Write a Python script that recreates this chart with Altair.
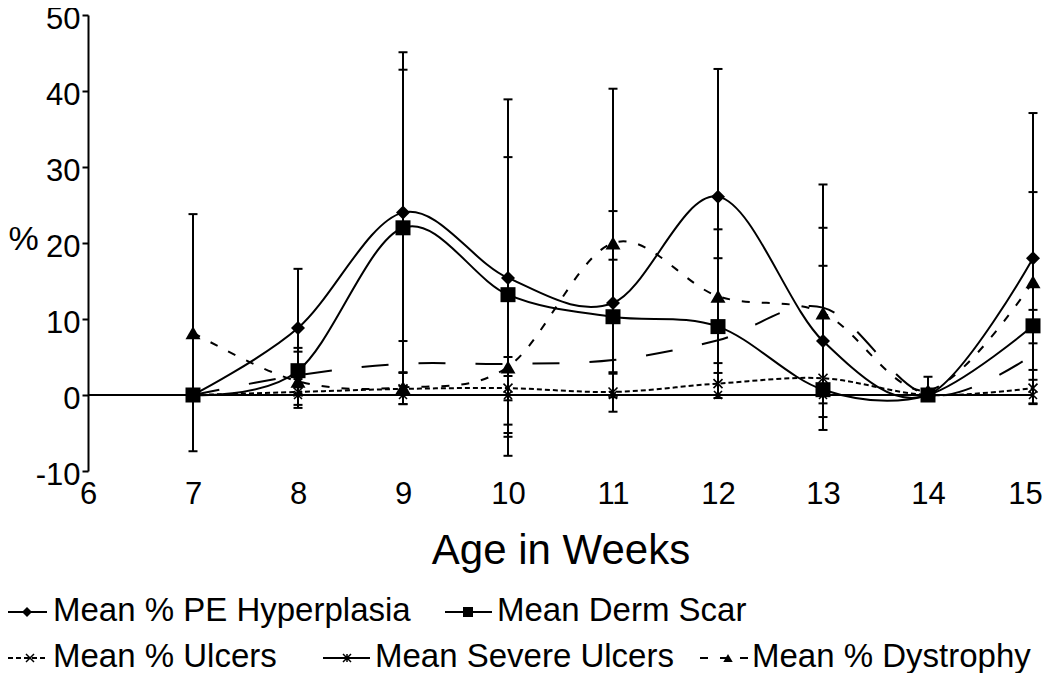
import altair as alt
import pandas as pd

# ---------------- data ----------------
weeks = [7, 8, 9, 10, 11, 12, 13, 14, 15]
x_ticks = [6, 7, 8, 9, 10, 11, 12, 13, 14, 15]
y_ticks = [-10, 0, 10, 20, 30, 40, 50]

series_names = [
    "Mean % PE Hyperplasia",
    "Mean Derm Scar",
    "Mean % Ulcers",
    "Mean Severe Ulcers",
    "Mean % Dystrophy",
]

hyperplasia = [0.0, 8.8, 24.0, 15.4, 12.1, 26.1, 7.1, 0.0, 18.0]
derm_scar = [0.0, 3.2, 22.0, 13.2, 10.3, 9.0, 0.7, 0.0, 9.1]
ulcers = [0.0, 0.4, 0.8, 0.9, 0.4, 1.5, 2.2, 0.0, 0.9]
severe_ulcers = [0.0, 0.0, 0.0, 0.0, 0.0, 0.0, 0.0, 0.0, 0.0]
dystrophy = [8.2, 1.8, 1.0, 3.7, 20.0, 13.0, 10.8, 0.6, 14.9]
# unlabelled long-dash curve (no legend entry in the original)
long_dash_curve = [0.0, 2.6, 4.1, 4.1, 4.6, 7.2, 11.5, 0.0, 5.3]

# error bar ends (upper / lower), None = no bar
hyperplasia_hi = [None, 16.6, 45.1, 38.9, 24.2, 42.9, 27.7, None, 37.1]
hyperplasia_lo = [None, 1.0, 2.9, -8.0, 0.0, 9.3, -4.6, None, -1.1]
derm_scar_hi = [None, 6.2, 42.8, 31.3, 17.8, 18.0, 17.0, None, 11.2]
derm_scar_lo = [None, 0.2, 1.2, -5.0, 2.8, 0.0, -2.9, None, 6.8]
ulcers_hi = [None, 2.1, 3.0, 2.5, 3.0, 2.9, None, None, 2.0]
ulcers_lo = [None, -1.3, -1.2, -0.7, -2.2, -0.4, None, None, -1.2]
severe_hi = [None, None, None, 0.0, None, None, None, None, None]
severe_lo = [None, None, None, -5.5, None, None, None, None, None]
dystrophy_hi = [23.8, 5.7, 7.1, 5.0, 40.3, 21.8, 22.0, 2.4, 26.7]
dystrophy_lo = [-7.4, -1.7, -1.2, -3.9, -0.3, 4.2, -1.1, 0.0, 3.3]

series_values = [hyperplasia, derm_scar, ulcers, severe_ulcers, dystrophy]
series_hi = [hyperplasia_hi, derm_scar_hi, ulcers_hi, severe_hi, dystrophy_hi]
series_lo = [hyperplasia_lo, derm_scar_lo, ulcers_lo, severe_lo, dystrophy_lo]

# ---------------- styles / layout ----------------
FONT = "Liberation Sans"
X_PATH = "M-1,-1L1,1M-1,1L1,-1"
AST_PATH = "M-1,-1L1,1M-1,1L1,-1M0,-1L0,1"

styles = [
    dict(dash=None, shape="diamond", filled=True, size=196, lsize=100),
    dict(dash=None, shape="square", filled=True, size=225, lsize=100),
    dict(dash=[5, 3], shape=X_PATH, filled=False, size=81, lsize=64),
    dict(dash=None, shape=AST_PATH, filled=False, size=64, lsize=64),
    dict(dash=[8, 12], shape="triangle-up", filled=True, size=225, lsize=90),
]

# legend layout in pixels relative to the plot origin: (line x0, line x1, marker x, text x, y)
legend_layout = [
    (-80, -41, -61, -35, 597),
    (357, 404, 380, 409, 597),
    (-80, -40, -58, -35, 643),
    (235, 282, 259, 287, 643),
    (612, 662, 640, 664, 643),
]

W, H = 945, 456

xscale = alt.Scale(domain=[6, 15], nice=False, zero=False)
yscale = alt.Scale(domain=[-10, 50], nice=False, zero=False)

x_axis = alt.Axis(
    values=x_ticks, format="d", domain=False, ticks=False, grid=False,
    labelFontSize=31, labelColor="black", labelPadding=8, labelFlush=False,
    labelOverlap=False, labelFont=FONT,
    labelOffset=alt.ConditionalAxisNumber(
        condition={"test": "datum.value == 15", "value": -8}, value=0
    ),
    title="Age in Weeks", titleFontSize=42, titleFontWeight="normal",
    titleColor="black", titlePadding=21, titleFont=FONT,
)
y_axis = alt.Axis(
    values=y_ticks, grid=False, domainColor="black", domainWidth=2,
    tickColor="black", tickWidth=2, tickSize=6, labelFontSize=31,
    labelPadding=2, labelColor="black", labelFlush=False, labelOverlap=False,
    labelFont=FONT, labelOffset=4, labelExpr="'' + datum.value",
    title="%", titleAngle=0, titleFontSize=34, titleFontWeight="normal",
    titleColor="black", titleAlign="left", titleBaseline="middle",
    titleX=-80, titleY=224, titleFont=FONT,
)

X = alt.X("week:Q", scale=xscale, axis=x_axis)
Y = alt.Y("value:Q", scale=yscale, axis=y_axis)

layers = []

# zero line across the plot
zero_df = pd.DataFrame({"value": [0.0]})
layers.append(
    alt.Chart(zero_df).mark_rule(color="black", strokeWidth=2).encode(
        y=alt.Y("value:Q", scale=yscale, axis=y_axis)
    )
)

# error bars
for vals, his, los in zip(series_values, series_hi, series_lo):
    rows = [(w, h, l) for w, h, l in zip(weeks, his, los) if h is not None]
    if not rows:
        continue
    eb = pd.DataFrame(rows, columns=["week", "hi", "lo"])
    layers.append(
        alt.Chart(eb).mark_rule(color="black", strokeWidth=2).encode(
            x=X, y=alt.Y("hi:Q", scale=yscale, axis=y_axis), y2="lo:Q"
        )
    )
    for col in ["hi", "lo"]:
        layers.append(
            alt.Chart(eb).mark_point(
                shape="stroke", size=81, color="black", strokeWidth=2, filled=False, opacity=1
            ).encode(x=X, y=alt.Y(f"{col}:Q", scale=yscale, axis=y_axis))
        )

# unlabelled long-dash curve
ld = pd.DataFrame({"week": weeks, "value": long_dash_curve})
layers.append(
    alt.Chart(ld).mark_line(
        color="black", strokeWidth=2, interpolate="cardinal", strokeDash=[27, 30]
    ).encode(x=X, y=Y)
)

# series lines + markers
for name, vals, st in zip(series_names, series_values, styles):
    df = pd.DataFrame({"week": weeks, "value": vals, "series": name})
    line_kw = dict(color="black", strokeWidth=2, interpolate="cardinal")
    if st["dash"] is not None:
        line_kw["strokeDash"] = st["dash"]
    layers.append(alt.Chart(df).mark_line(**line_kw).encode(x=X, y=Y))
    pt_kw = dict(shape=st["shape"], size=st["size"], color="black", opacity=1,
                 filled=st["filled"])
    pt_kw["strokeWidth"] = 1.6 if not st["filled"] else 0
    layers.append(alt.Chart(df).mark_point(**pt_kw).encode(x=X, y=Y))

# manual legend (two rows, like the original)
for name, st, (x0, x1, mx, tx, ly) in zip(series_names, styles, legend_layout):
    ldf = pd.DataFrame({"label": [name]})
    rule_kw = dict(color="black", strokeWidth=2)
    if st["dash"] is not None:
        rule_kw["strokeDash"] = st["dash"]
    layers.append(
        alt.Chart(ldf).mark_rule(**rule_kw).encode(
            x=alt.value(x0), x2=alt.value(x1), y=alt.value(ly)
        )
    )
    pt_kw = dict(shape=st["shape"], size=st["lsize"], color="black", opacity=1,
                 filled=st["filled"])
    pt_kw["strokeWidth"] = 1.5 if not st["filled"] else 0
    layers.append(
        alt.Chart(ldf).mark_point(**pt_kw).encode(x=alt.value(mx), y=alt.value(ly))
    )
    layers.append(
        alt.Chart(ldf).mark_text(
            font=FONT, fontSize=33, align="left", baseline="middle", color="black"
        ).encode(x=alt.value(tx), y=alt.value(ly - 1), text="label:N")
    )

chart = (
    alt.layer(*layers)
    .properties(
        width=W,
        height=H,
        autosize=alt.AutoSizeParams(type="none"),
        padding={"left": 80, "top": 7, "right": 9, "bottom": 202},
        background="white",
    )
    .configure_view(stroke=None)
)

chart.save("out.html", embed_options={"renderer": "svg", "actions": False})
